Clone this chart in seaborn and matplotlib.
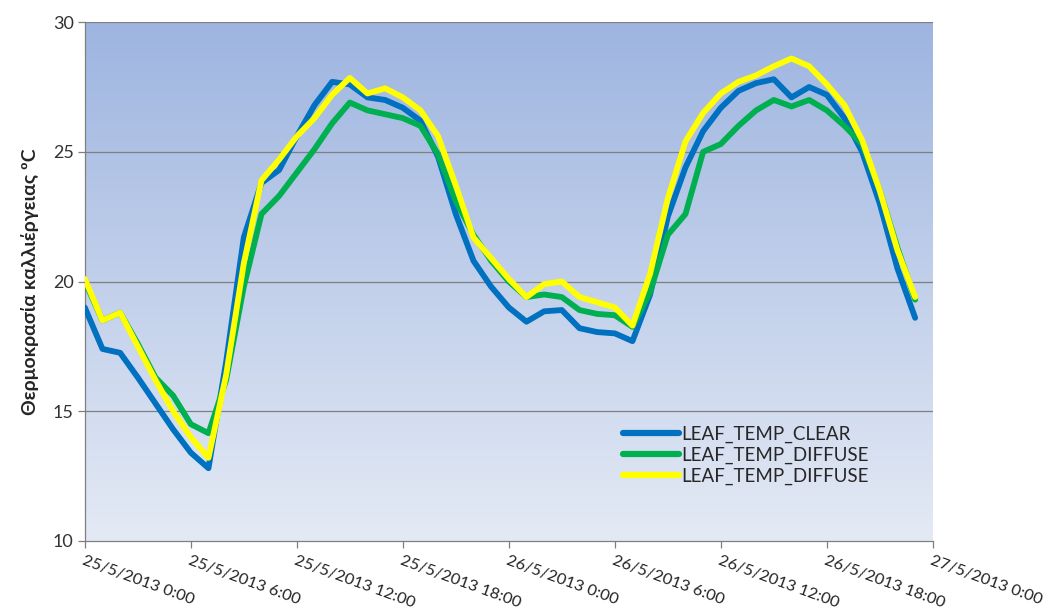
import numpy as np
import pandas as pd
import matplotlib
matplotlib.use("Agg")
import matplotlib.pyplot as plt
import seaborn as sns

# =========================================================
# Data (hourly readings, 25/5/2013 0:00 onwards)
# =========================================================
start = "2013-05-25 00:00"
n_hours = 48

leaf_clear = [19.0, 17.4, 17.25, 16.3, 15.3, 14.3, 13.4, 12.8, 16.9, 21.7,
              23.8, 24.3, 25.6, 26.8, 27.7, 27.6, 27.1, 27.0, 26.7, 26.2,
              24.8, 22.6, 20.8, 19.8, 19.0, 18.45, 18.85, 18.9, 18.2, 18.05,
              18.0, 17.7, 19.5, 22.5, 24.4, 25.8, 26.7, 27.35, 27.65, 27.8,
              27.1, 27.5, 27.2, 26.3, 25.0, 23.0, 20.5, 18.6]

leaf_diffuse = [20.0, 18.5, 18.8, 17.6, 16.3, 15.6, 14.5, 14.15, 16.2, 19.8,
                22.6, 23.3, 24.2, 25.1, 26.1, 26.9, 26.6, 26.45, 26.3, 26.0,
                24.9, 23.1, 21.8, 20.8, 20.0, 19.4, 19.5, 19.4, 18.9, 18.75,
                18.7, 18.25, 19.6, 21.8, 22.6, 25.0, 25.3, 26.0, 26.6, 27.0,
                26.75, 27.0, 26.6, 26.0, 25.3, 23.5, 21.3, 19.3]

leaf_diffuse_2 = [20.1, 18.5, 18.8, 17.5, 16.2, 15.0, 14.0, 13.2, 16.4, 20.7,
                  23.9, 24.7, 25.6, 26.3, 27.2, 27.85, 27.25, 27.45, 27.1, 26.6,
                  25.6, 23.7, 21.7, 20.9, 20.1, 19.4, 19.9, 20.0, 19.4, 19.2,
                  19.0, 18.3, 20.3, 23.2, 25.4, 26.5, 27.25, 27.7, 27.95, 28.3,
                  28.6, 28.3, 27.6, 26.8, 25.45, 23.5, 21.2, 19.4]

series_names = ["LEAF_TEMP_CLEAR", "LEAF_TEMP_DIFFUSE", "LEAF_TEMP_DIFFUSE "]
legend_labels = ["LEAF_TEMP_CLEAR", "LEAF_TEMP_DIFFUSE", "LEAF_TEMP_DIFFUSE"]
series_colors = ["#0070C0", "#00B050", "#FFFF00"]

times = pd.date_range(start, periods=n_hours, freq="h")
df = pd.DataFrame({
    "time": np.tile(times, 3),
    "temp": leaf_clear + leaf_diffuse + leaf_diffuse_2,
    "series": np.repeat(series_names, n_hours),
})

# =========================================================
# Plot
# =========================================================
sns.set_style("white")
plt.rcParams["font.family"] = ["Lato", "DejaVu Sans"]

fig = plt.figure(figsize=(10.6, 6.16), dpi=100)
ax = fig.add_axes([0.080, 0.122, 0.800, 0.842])

# gradient background
grad = np.linspace(0, 1, 256).reshape(-1, 1)
top_c = np.array([158, 181, 224]) / 255
bot_c = np.array([228, 234, 245]) / 255
img = top_c[None, None, :] * (1 - grad[..., None]) + bot_c[None, None, :] * grad[..., None]
ax.imshow(img, extent=[0, 1, 0, 1], transform=ax.transAxes,
          aspect="auto", zorder=0)

sns.lineplot(data=df, x="time", y="temp", hue="series",
             palette=series_colors, linewidth=4.2, ax=ax, zorder=3,
             solid_capstyle="round", solid_joinstyle="round")

ax.set_xlim(pd.Timestamp("2013-05-25 00:00"), pd.Timestamp("2013-05-27 00:00"))
ax.set_ylim(10, 30)
ax.set_yticks([10, 15, 20, 25, 30])

for yv in [15, 20, 25, 30]:
    ax.axhline(yv, color="#7f7f7f", linewidth=0.9, zorder=1)

ticks = pd.date_range("2013-05-25 00:00", "2013-05-27 00:00", freq="6h")
ax.set_xticks(ticks)
ax.set_xticklabels([f"{t.day}/{t.month}/{t.year} {t.hour}:{t.minute:02d}" for t in ticks],
                   rotation=-20, ha="left", va="top", rotation_mode="anchor",
                   fontsize=11.8, color="#222222")
ax.tick_params(axis="x", length=5, width=0.9, color="#7f7f7f", pad=4)
ax.tick_params(axis="y", length=5, width=0.9, color="#7f7f7f", labelsize=13,
               labelcolor="#333333", pad=3)
ax.tick_params(left=True, bottom=True)

for side in ["top", "right"]:
    ax.spines[side].set_visible(False)
for side in ["left", "bottom"]:
    ax.spines[side].set_color("#7f7f7f")
    ax.spines[side].set_linewidth(0.9)

ax.set_xlabel("")
ax.set_ylabel("Θερμοκρασία καλλιέργειας ºC", fontsize=14, fontweight="bold",
              labelpad=10)

leg = ax.legend(loc="lower left", bbox_to_anchor=(0.615, 0.075), frameon=False,
                fontsize=13.5, handlelength=3.0, handletextpad=0.1,
                labelspacing=0.2)
for h in leg.get_lines():
    h.set_linewidth(4.5)
for t, name in zip(leg.get_texts(), legend_labels):
    t.set_text(name)

fig.savefig("out.png", dpi=100)
plt.close(fig)
